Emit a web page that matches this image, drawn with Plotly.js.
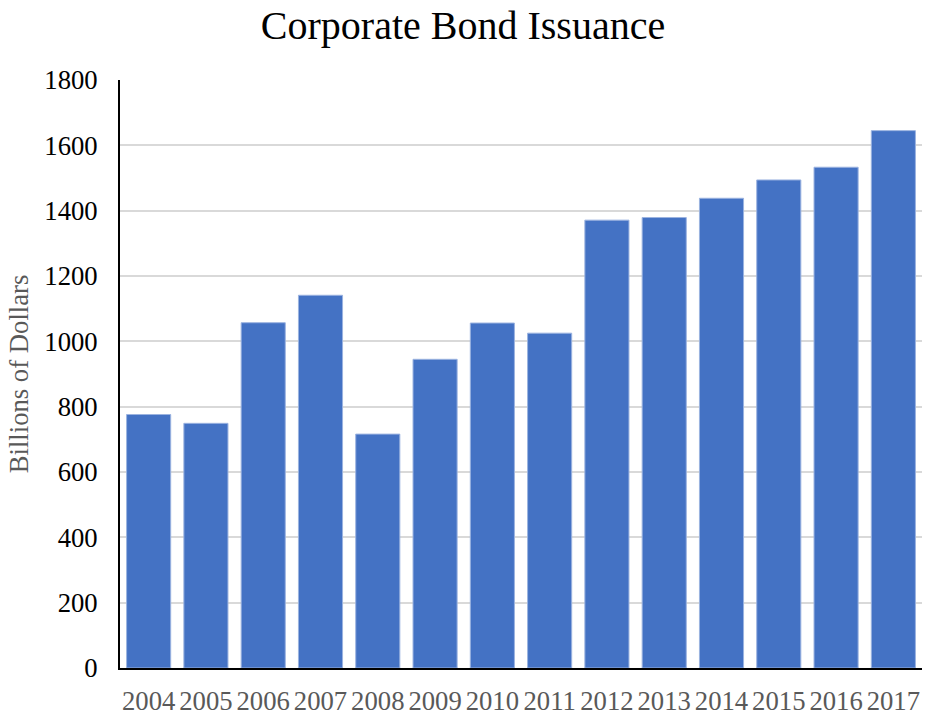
<!DOCTYPE html>
<html>
<head>
<meta charset="utf-8">
<script src="https://cdn.plot.ly/plotly-3.0.1.min.js"></script>
<style>html,body{margin:0;padding:0;background:#fff;}#chart{width:926px;height:717px;}</style>
</head>
<body>
<div id="chart"></div>
<script>
const years = ["2004","2005","2006","2007","2008","2009","2010","2011","2012","2013","2014","2015","2016","2017"];
const issuance = [776, 749, 1057, 1141, 716, 945, 1056, 1025, 1371, 1379, 1438, 1494, 1533, 1645];
const yTicks = [0, 200, 400, 600, 800, 1000, 1200, 1400, 1600, 1800];

const font = "Liberation Serif, Times New Roman, serif";
Plotly.newPlot("chart", [{
  type: "bar",
  x: years,
  y: issuance,
  marker: {color: "#4472C4", line: {color: "#9bb3e0", width: 1}},
  hoverinfo: "x+y"
}], {
  width: 926, height: 717,
  margin: {l: 120, r: 4, t: 80, b: 49},
  paper_bgcolor: "#fff", plot_bgcolor: "#fff",
  bargap: 0.23,
  title: {text: "Corporate Bond Issuance", font: {family: font, size: 40, color: "#000"}, x: 0.5, xanchor: "center", y: 0.965, yanchor: "middle"},
  xaxis: {
    type: "category",
    showline: true, linecolor: "#000", linewidth: 2,
    ticks: "", showgrid: false,
    ticklabelstandoff: 8,
    tickfont: {family: font, size: 26.7, color: "#595959"},
    automargin: false
  },
  yaxis: {
    range: [0, 1800],
    tickvals: yTicks,
    ticktext: yTicks.map(String),
    showline: true, linecolor: "#000", linewidth: 2,
    gridcolor: "#d9d9d9", gridwidth: 2,
    zeroline: false,
    ticks: "", ticklen: 0,
    ticklabelstandoff: 15,
    tickfont: {family: font, size: 26.7, color: "#000"},
    title: {text: "Billions of Dollars", font: {family: font, size: 26.7, color: "#595959"}, standoff: 8},
    automargin: false
  },
  showlegend: false
}, {displayModeBar: false, responsive: false});
</script>
</body>
</html>
